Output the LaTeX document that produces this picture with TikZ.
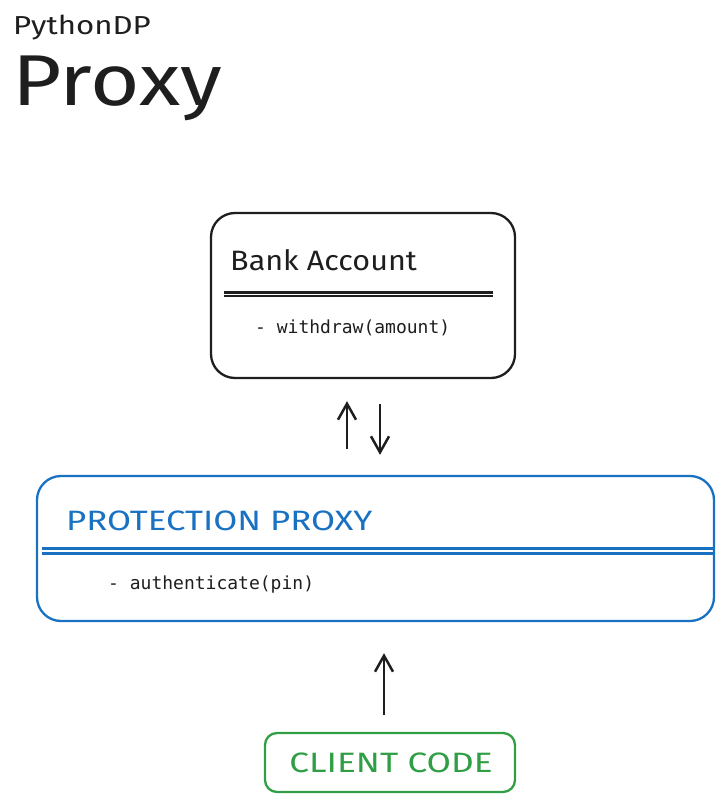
\documentclass[tikz,border=0pt]{standalone}
\usepackage{fontspec}
\setmainfont{Fira Sans}
\setmonofont{DejaVu Sans Mono}
\usetikzlibrary{arrows.meta,calc}
\definecolor{ink}{HTML}{1E1E1E}
\definecolor{exblue}{HTML}{1971C2}
\definecolor{exgreen}{HTML}{2F9E44}
\tikzset{
  box/.style={draw, rounded corners=24pt, line width=2.3pt, minimum width=#1},
  arr/.style={draw=ink, line width=2.5pt, -{Straight Barb[length=16pt,width=18pt,line width=2.5pt]}},
  divider/.style={line width=2.2pt},
  hand/.style={inner sep=0pt, font=\fontsize{28}{30}\selectfont},
  mono/.style={inner sep=0pt, text=ink, font=\ttfamily\fontsize{18}{20}\selectfont},
}
\begin{document}
\begin{tikzpicture}[x=1pt,y=-1pt]
\useasboundingbox (0,0) rectangle (723,802);
% titles
\node[anchor=base west, inner sep=0pt, text=ink, font=\fontsize{26}{28}\selectfont] (sub) at (13,35) {\scalebox{1.2}[1]{PythonDP}};
\node[anchor=base west, inner sep=0pt, text=ink, font=\fontsize{72}{74}\selectfont] (main) at (12,106) {\scalebox{1.18}[1]{Proxy}};
% boxes
\node[box=304pt, minimum height=165pt, draw=ink] (bank) at (363,295.5) {};
\node[box=677pt, minimum height=145pt, draw=exblue] (proxy) at (375.5,548.5) {};
\node[box=250pt, minimum height=59pt, draw=exgreen, rounded corners=12pt] (client) at (390,762.5) {};
% bank content
\node[hand, anchor=base west, text=ink] (btitle) at (230,270) {\scalebox{1.09}[1]{Bank Account}};
\draw[divider, draw=ink] (224,292.5) -- (493,292.5);
\draw[divider, draw=ink] (224,296) -- (493,296);
\node[mono, anchor=base west] (bmeth) at (255,333) {- withdraw(amount)};
% proxy content
\node[hand, anchor=base west, text=exblue] (ptitle) at (66,530) {\scalebox{1.24}[1]{PROTECTION PROXY}};
\draw[divider, draw=exblue] (42,548.5) -- (713,548.5);
\draw[divider, draw=exblue] (42,553.5) -- (713,553.5);
\node[mono, anchor=base west] (pmeth) at (108,589) {- authenticate(pin)};
% client content
\node[hand, anchor=base, text=exgreen] (ctitle) at (391,772) {\scalebox{1.26}[1]{CLIENT CODE}};
% connectors
\draw[arr, shorten <=26pt, shorten >=22pt] (proxy.north -| 347,0) -- (bank.south -| 347,0);
\draw[arr, shorten <=25pt, shorten >=20pt] (bank.south -| 380,0) -- (proxy.north -| 380,0);
\draw[arr, shorten <=17pt, shorten >=31pt] (client.north -| 384,0) -- (proxy.south -| 384,0);
\end{tikzpicture}
\end{document}
